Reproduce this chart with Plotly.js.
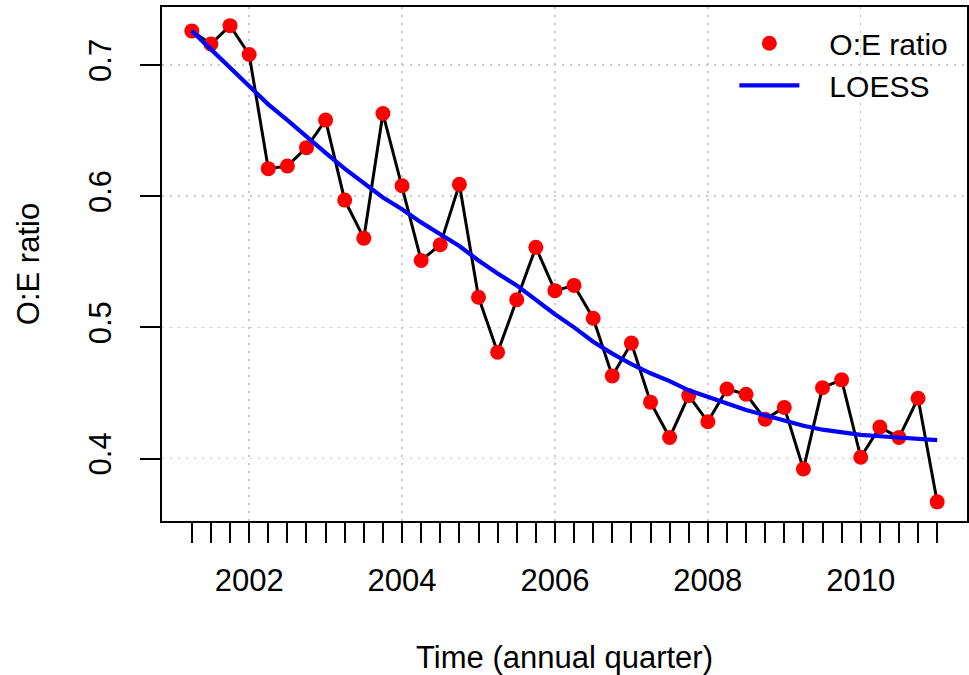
<!DOCTYPE html>
<html>
<head>
<meta charset="utf-8">
<script src="https://cdn.plot.ly/plotly-3.0.1.min.js"></script>
<style>
  html, body { margin: 0; padding: 0; background: #ffffff; }
  #chart { width: 969px; height: 675px; }
</style>
</head>
<body>
<div id="chart"></div>
<script>
// Quarterly time points (decimal years, 2001 Q2 .. 2011 Q1)
var quarterTime = [
  2001.25, 2001.50, 2001.75, 2002.00, 2002.25, 2002.50, 2002.75, 2003.00,
  2003.25, 2003.50, 2003.75, 2004.00, 2004.25, 2004.50, 2004.75, 2005.00,
  2005.25, 2005.50, 2005.75, 2006.00, 2006.25, 2006.50, 2006.75, 2007.00,
  2007.25, 2007.50, 2007.75, 2008.00, 2008.25, 2008.50, 2008.75, 2009.00,
  2009.25, 2009.50, 2009.75, 2010.00, 2010.25, 2010.50, 2010.75, 2011.00
];

// Observed : expected ratio per quarter
var oeRatio = [
  0.726, 0.716, 0.730, 0.708, 0.621, 0.623, 0.637, 0.658,
  0.597, 0.568, 0.663, 0.608, 0.551, 0.563, 0.609, 0.523,
  0.481, 0.521, 0.561, 0.528, 0.532, 0.507, 0.463, 0.488,
  0.443, 0.416, 0.448, 0.428, 0.453, 0.449, 0.430, 0.439,
  0.392, 0.454, 0.460, 0.401, 0.424, 0.416, 0.446, 0.367
];

// LOESS smooth of the ratio
var loessFit = [
  0.726, 0.712, 0.697, 0.683, 0.670, 0.658, 0.645, 0.633,
  0.621, 0.610, 0.599, 0.590, 0.580, 0.571, 0.562, 0.551,
  0.541, 0.532, 0.521, 0.510, 0.500, 0.489, 0.480, 0.472,
  0.465, 0.459, 0.452, 0.447, 0.442, 0.437, 0.433, 0.429,
  0.425, 0.422, 0.420, 0.418, 0.417, 0.416, 0.415, 0.414
];

// Axis tick labels
var xTickVals = [2002, 2004, 2006, 2008, 2010];
var xTickText = ["2002", "2004", "2006", "2008", "2010"];
var yTickVals = [0.4, 0.5, 0.6, 0.7];
var yTickText = ["0.4", "0.5", "0.6", "0.7"];

// Series names
var seriesNames = ["O:E ratio", "LOESS"];

var FONT = "Liberation Sans, Arial, Helvetica, sans-serif";
var PAD = "\u00a0\u00a0\u00a0";

var traces = [
  {
    x: quarterTime, y: oeRatio, type: "scatter", mode: "lines",
    line: { color: "#000000", width: 3 },
    showlegend: false, hoverinfo: "skip"
  },
  {
    x: quarterTime, y: oeRatio, type: "scatter", mode: "markers",
    name: PAD + seriesNames[0],
    marker: { color: "#ff0000", size: 15, line: { width: 0 } }
  },
  {
    x: quarterTime, y: loessFit, type: "scatter", mode: "lines",
    name: PAD + seriesNames[1],
    line: { color: "#0000ff", width: 4.2 }
  }
];

var GRID = { gridcolor: "#c8c8c8", gridwidth: 1.5, griddash: "2px,6px" };

var layout = {
  width: 969, height: 675,
  margin: { l: 162, r: 2, t: 7, b: 154, pad: 0 },
  paper_bgcolor: "#ffffff", plot_bgcolor: "#ffffff",
  font: { family: FONT, size: 31, color: "#000000" },
  showlegend: true,
  legend: {
    x: 0.711, y: 0.98, xanchor: "left", yanchor: "top",
    bgcolor: "rgba(0,0,0,0)", borderwidth: 0,
    font: { family: FONT, size: 30, color: "#000000" },
    itemwidth: 60, tracegroupgap: 0
  },
  xaxis: Object.assign({
    range: [2000.86, 2011.39],
    autorange: false,
    tickmode: "array", tickvals: xTickVals, ticktext: xTickText,
    ticks: "outside", ticklen: 20, tickwidth: 2, tickcolor: "#000000",
    ticklabelstandoff: 11,
    tickfont: { family: FONT, size: 31, color: "#000000" },
    minor: {
      tickmode: "array", tickvals: quarterTime,
      ticks: "outside", ticklen: 20, tickwidth: 2, tickcolor: "#000000",
      showgrid: false
    },
    showgrid: true,
    zeroline: false,
    showline: true, linecolor: "#000000", linewidth: 2, mirror: true,
    automargin: false,
    title: { text: "Time (annual quarter)", standoff: 50,
             font: { family: FONT, size: 31, color: "#000000" } }
  }, GRID),
  yaxis: Object.assign({
    range: [0.3524, 0.7442],
    autorange: false,
    tickmode: "array", tickvals: yTickVals, ticktext: yTickText,
    tickangle: -90,
    ticks: "outside", ticklen: 20, tickwidth: 2, tickcolor: "#000000",
    ticklabelstandoff: 17,
    tickfont: { family: FONT, size: 31, color: "#000000" },
    showgrid: true,
    zeroline: false,
    showline: true, linecolor: "#000000", linewidth: 2, mirror: true,
    automargin: false,
    title: { text: "O:E ratio", standoff: 34,
             font: { family: FONT, size: 31, color: "#000000" } }
  }, GRID)
};

Plotly.newPlot("chart", traces, layout, { staticPlot: true, displayModeBar: false });
</script>
</body>
</html>
